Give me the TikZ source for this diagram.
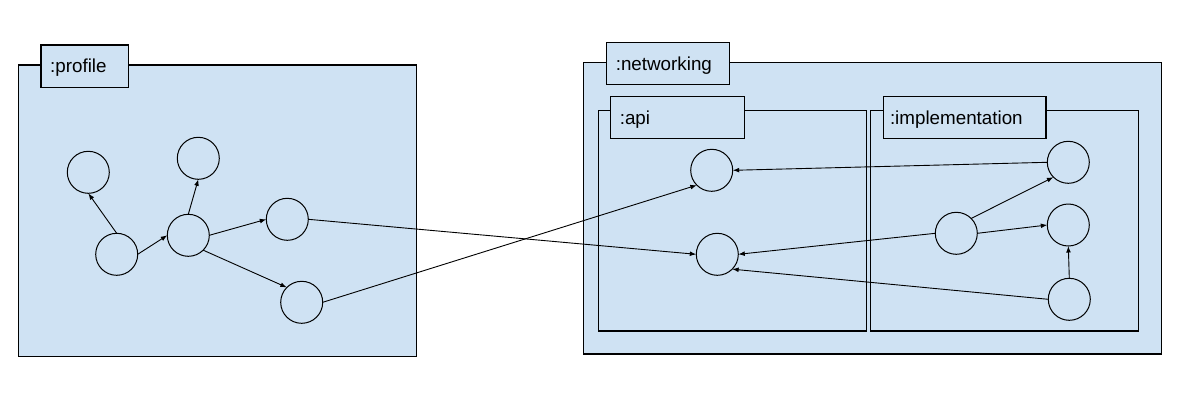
\documentclass[tikz,border=0pt]{standalone}
\usepackage{fontspec}
\setmainfont{Liberation Sans}
\usetikzlibrary{arrows.meta}
\definecolor{pkgblue}{HTML}{CFE2F3}
\begin{document}
\begin{tikzpicture}[x=1pt,y=-1pt,
  pkgbox/.style={draw=black, fill=pkgblue, line width=1.2pt, rectangle, inner sep=0pt, outer sep=0pt, anchor=north west},
  pkgtab/.style={draw=black, fill=pkgblue, line width=1.2pt, rectangle, inner sep=0pt, outer sep=0pt, anchor=north west},
  pkglabel/.style={anchor=base west, inner sep=0pt, outer sep=0pt, font=\fontsize{18.8}{22}\selectfont},
  ent/.style={circle, draw=black, fill=pkgblue, line width=1pt, minimum size=42pt, inner sep=0pt, outer sep=0pt},
  dep/.style={line width=0.9pt, -{Latex[length=6.5pt,width=4.8pt]}},
]
\useasboundingbox (0,0) rectangle (1194,400);

% packages
\node[pkgbox, minimum width=398.4pt, minimum height=291.7pt] (profile) at (18.3,65) {};
\node[pkgtab, minimum width=87.3pt, minimum height=42.3pt] (profiletab) at (41,45) {};
\node[pkglabel] (profilelbl) at (50.2,72.5) {:profile};

\node[pkgbox, minimum width=578.4pt, minimum height=291.3pt] (networking) at (583.3,62.7) {};
\node[pkgtab, minimum width=122.6pt, minimum height=42pt] (networkingtab) at (606.7,42.3) {};
\node[pkglabel] (networkinglbl) at (615.8,70) {:networking};

\node[pkgbox, minimum width=268.4pt, minimum height=220.7pt] (api) at (598.3,110.3) {};
\node[pkgtab, minimum width=134pt, minimum height=41.6pt] (apitab) at (610.3,96.7) {};
\node[pkglabel] (apilbl) at (619.8,124.2) {:api};

\node[pkgbox, minimum width=267.6pt, minimum height=220.7pt] (impl) at (870.7,110.3) {};
\node[pkgtab, minimum width=162.7pt, minimum height=41.6pt] (impltab) at (883.3,96.7) {};
\node[pkglabel] (impllbl) at (890,124.2) {:implementation};

% profile entities
\node[ent] (pA) at (88.3,172.3) {};
\node[ent] (pB) at (116.7,254.3) {};
\node[ent] (pC) at (188.3,235.3) {};
\node[ent] (pD) at (198.3,158.3) {};
\node[ent] (pE) at (287.3,219.3) {};
\node[ent] (pF) at (301.7,302.3) {};

% api entities
\node[ent] (aT) at (711.7,170.3) {};
\node[ent] (aB) at (717.3,254.3) {};

% implementation entities
\node[ent] (iTR) at (1068.3,162.3) {};
\node[ent] (iMR) at (1068.3,225) {};
\node[ent] (iBR) at (1069.3,299.3) {};
\node[ent] (iM) at (956.3,233.3) {};

% dependencies
\draw[dep] (pB.north) -- (pA.south);
\draw[dep] (pB.east) -- (pC.west);
\draw[dep] (pC.north) -- (pD.south);
\draw[dep] (pC.east) -- (pE.west);
\draw[dep] (pC.south east) -- (pF.north west);
\draw[dep] (pE.east) -- (aB.west);
\draw[dep] (pF.east) -- (aT.south west);

\draw[dep] (iTR.west) -- (aT.east);
\draw[dep] (iM.west) -- (aB.east);
\draw[dep] (iM.north east) -- (iTR.south west);
\draw[dep] (iM.east) -- (iMR.west);
\draw[dep] (iBR.north) -- (iMR.south);
\draw[dep] (iBR.west) -- (aB.south east);
\end{tikzpicture}
\end{document}
